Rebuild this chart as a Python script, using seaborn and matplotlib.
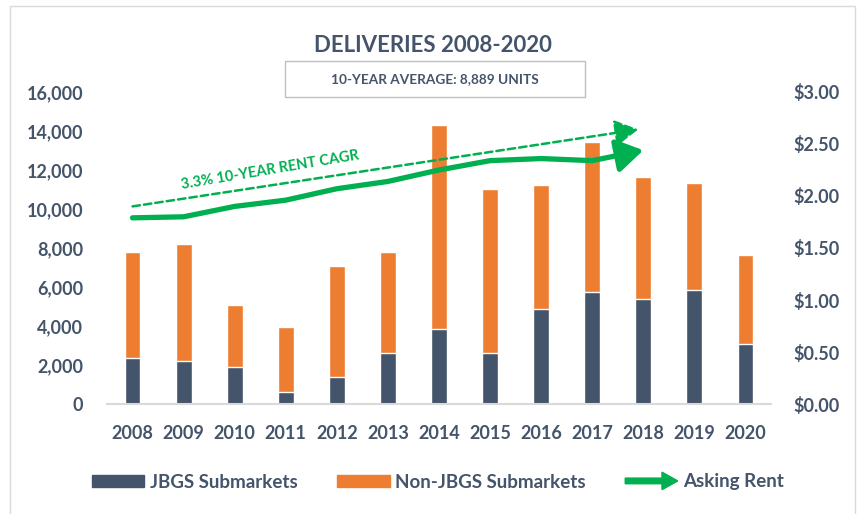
import matplotlib
matplotlib.use("Agg")
import matplotlib.pyplot as plt
import seaborn as sns
from matplotlib.patches import Patch, Rectangle, FancyArrow
from matplotlib.legend_handler import HandlerPatch
from matplotlib.ticker import FuncFormatter

# data
years = ["2008", "2009", "2010", "2011", "2012", "2013", "2014",
         "2015", "2016", "2017", "2018", "2019", "2020"]
jbgs = [2340, 2220, 1880, 600, 1400, 2630, 3830, 2630, 4890, 5760, 5400, 5860, 3090]
non_jbgs = [5470, 5970, 3200, 3330, 5680, 5150, 10460, 8400, 6340, 7660, 6220, 5460, 4550]

# asking rent ($/sf), 2008-2018 (arrow ends at 2018)
rent_years = ["2008", "2009", "2010", "2011", "2012", "2013", "2014",
              "2015", "2016", "2017", "2018"]
rent = [1.79, 1.80, 1.90, 1.96, 2.07, 2.14, 2.25, 2.34, 2.36, 2.34, 2.44]

# 3.3% CAGR trend arrow (start / end rent)
cagr_rent = [1.90, 2.64]
cagr_label = "3.3% 10-YEAR RENT CAGR"

title = "DELIVERIES 2008-2020"
subtitle = "10-YEAR AVERAGE: 8,889 UNITS"

DARK = "#44546A"
ORANGE = "#ED7D31"
GREEN = "#00B050"
TEXT = "#44546A"

sns.set_style("white")
plt.rcParams["font.family"] = ["Lato", "DejaVu Sans"]

fig = plt.figure(figsize=(8.64, 5.14), dpi=100)
ax = fig.add_axes([107 / 864, 110 / 514, 664 / 864, 312 / 514])

totals = [a + b for a, b in zip(jbgs, non_jbgs)]
sns.barplot(x=years, y=totals, color=ORANGE, saturation=1, width=0.31, ax=ax)
sns.barplot(x=years, y=jbgs, color=DARK, saturation=1, width=0.31, ax=ax)

ax.set_ylim(0, 16000)
ax.set_yticks(range(0, 16001, 2000))
ax.yaxis.set_major_formatter(FuncFormatter(lambda v, p: f"{int(v):,}"))
ax.set_xlabel("")
ax.set_ylabel("")
for s in ["top", "left", "right"]:
    ax.spines[s].set_visible(False)
ax.spines["bottom"].set_color("#D9D9D9")
ax.spines["bottom"].set_linewidth(1.5)
ax.tick_params(axis="y", length=0, pad=17, labelsize=13, labelcolor=TEXT)
ax.tick_params(axis="x", length=0, pad=15, labelsize=13, labelcolor=TEXT)
for lab in ax.get_xticklabels() + ax.get_yticklabels():
    lab.set_fontweight("bold")

# rent on the right axis
ax2 = ax.twinx()
pos = [years.index(y) for y in rent_years]
sns.lineplot(x=pos[:-1], y=rent[:-1], ax=ax2, color=GREEN, lw=3.8,
             solid_capstyle="round", solid_joinstyle="round")
ax2.annotate("", xy=(pos[-1], rent[-1]), xytext=(pos[-2], rent[-2]),
             arrowprops=dict(arrowstyle="-|>,head_length=0.8,head_width=0.5",
                             color=GREEN, lw=3.8, mutation_scale=20,
                             shrinkA=0, shrinkB=0, capstyle="round"))

# CAGR dashed arrow
ax2.annotate("", xy=(pos[-1] - 0.1, cagr_rent[1]), xytext=(pos[0], cagr_rent[0]),
             arrowprops=dict(arrowstyle="-|>,head_length=0.8,head_width=0.45",
                             color=GREEN, lw=1.8, ls=(0, (3, 1.6)),
                             mutation_scale=18, shrinkA=0, shrinkB=0))
ax2.text(2.7, 2.25, cagr_label, color=GREEN, fontsize=10.5, fontweight="bold",
         rotation=9.5, ha="center", va="center", rotation_mode="anchor")

ax2.set_ylim(0, 3)
ax2.set_yticks([0, 0.5, 1.0, 1.5, 2.0, 2.5, 3.0])
ax2.yaxis.set_major_formatter(FuncFormatter(lambda v, p: f"${v:.2f}"))
ax2.set_ylabel("")
for s in ax2.spines.values():
    s.set_visible(False)
ax2.tick_params(axis="y", length=0, pad=16, labelsize=13, labelcolor=TEXT)
for lab in ax2.get_yticklabels():
    lab.set_fontweight("bold")
ax.set_xlim(-0.5, len(years) - 0.5)

# title and average box
fig.text(0.501, 1 - 45 / 514, title, ha="center", va="center",
         fontsize=16, fontweight="bold", color=TEXT)
fig.patches.append(Rectangle((285 / 864, 1 - 97 / 514), 300 / 864, 36 / 514,
                             transform=fig.transFigure, fill=False,
                             edgecolor="#BFBFBF", lw=1))
fig.text(435 / 864, 1 - 79 / 514, subtitle, ha="center", va="center",
         fontsize=9.8, fontweight="bold", color=TEXT)

# outer frame
fig.patches.append(Rectangle((10 / 864, -0.02), 845 / 864, 1.02 - 6 / 514,
                             transform=fig.transFigure, fill=False,
                             edgecolor="#D9D9D9", lw=1))


class ArrowHandler(HandlerPatch):
    def create_artists(self, legend, orig_handle, xdescent, ydescent,
                       width, height, fontsize, trans):
        y = height / 2 - ydescent
        arr = FancyArrow(-xdescent, y, width, 0, width=height * 0.45,
                         head_width=height * 1.4, head_length=width * 0.3,
                         length_includes_head=True, color=GREEN)
        arr.set_transform(trans)
        return [arr]


rent_handle = Patch(color=GREEN)
handles = [Patch(color=DARK), Patch(color=ORANGE), rent_handle]
labels = ["JBGS Submarkets", "Non-JBGS Submarkets", "Asking Rent"]
fig.legend(handles, labels, loc="center", bbox_to_anchor=(0.507, 1 - 482 / 514),
           ncol=3, frameon=False, handlelength=2.8, handleheight=0.65,
           handletextpad=0.3, columnspacing=2.1, labelcolor=TEXT,
           prop={"size": 13.5, "weight": "bold"},
           handler_map={rent_handle: ArrowHandler()})

plt.savefig("out.png", dpi=100)
plt.close()
